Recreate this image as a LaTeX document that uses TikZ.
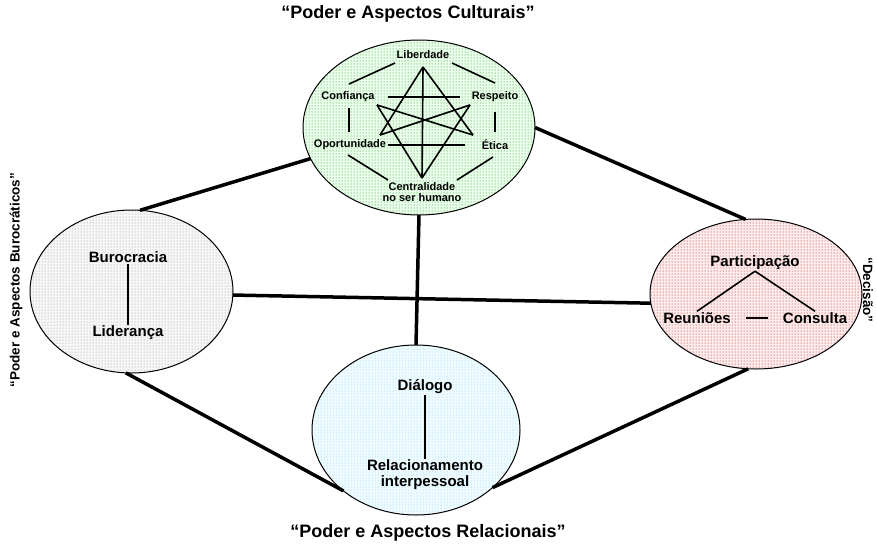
\documentclass[tikz,border=0pt]{standalone}
\usepackage{fontspec}
\setmainfont{Liberation Sans}
\usetikzlibrary{shapes.geometric,patterns}
\begin{document}
\begin{tikzpicture}[x=1pt,y=-1pt,
  bubble/.style={ellipse, draw=black, line width=1pt, inner sep=0pt, outer sep=0pt},
  link/.style={line width=3.5pt},
  inner/.style={line width=1.6pt},
  big/.style={font=\fontsize{15}{16}\selectfont\bfseries, inner sep=1pt, align=center},
  small/.style={font=\fontsize{11}{11}\selectfont\bfseries, inner sep=1pt, align=center},
  ttl/.style={font=\fontsize{18}{20}\selectfont\bfseries},
  side/.style={font=\fontsize{13.5}{15}\selectfont\bfseries, inner sep=1pt}]
\useasboundingbox (0,0) rectangle (877,544);

% ellipses
\node[bubble, minimum width=232pt, minimum height=175pt, preaction={fill=green!7}, pattern=dots, pattern color=green!55!black] (cult) at (419,127.5) {};
\node[bubble, minimum width=203pt, minimum height=163pt, preaction={fill=black!3}, pattern=dots, pattern color=black!45] (bur) at (131.5,291.5) {};
\node[bubble, minimum width=212pt, minimum height=150pt, preaction={fill=red!7}, pattern=dots, pattern color=red!60!black] (dec) at (756,294) {};
\node[bubble, minimum width=208pt, minimum height=170pt, preaction={fill=cyan!5}, pattern=dots, pattern color=cyan!70!blue!60] (rel) at (416,430) {};

% connectors
\draw[link] (cult.196) -- (bur.84);
\draw[link] (cult.0) -- (dec.98);
\draw[link] (cult.270) -- (rel.90);
\draw[link] (bur.-2) -- (dec.185);
\draw[link] (bur.266) -- (rel.220);
\draw[link] (dec.264) -- (rel.323);

% titles
\node[ttl] (t1) at (408,14) {“Poder e Aspectos Culturais”};
\node[ttl] (t2) at (428,533) {“Poder e Aspectos Relacionais”};
\node[side, rotate=90] (t3) at (16,280) {“Poder e Aspectos Burocráticos”};
\node[side, rotate=-90] (t4) at (868,290) {“Decisão”};

% top ellipse contents
\node[small] (lib) at (423,55) {Liberdade};
\node[small] (conf) at (348,97) {Confiança};
\node[small] (resp) at (495,97) {Respeito};
\node[small] (opor) at (350,145) {Oportunidade};
\node[small] (etica) at (495,145) {Ética};
\node[small] (cent) at (422,192) {Centralidade\\no ser humano};

\coordinate (A) at (423,67);
\coordinate (P1) at (380,135);
\coordinate (P2) at (473,135);
\coordinate (C1) at (377,105);
\coordinate (C2) at (470,105);
\coordinate (B) at (422,178);
\draw[inner] (A) -- (P1);
\draw[inner] (A) -- (P2);
\draw[inner] (C1) -- (P2);
\draw[inner] (C2) -- (P1);
\draw[inner] (C1) -- (B);
\draw[inner] (C2) -- (B);
\draw[inner] (A) -- (B);
\draw[inner] (388,97) -- (460,97);
\draw[inner] (388,145) -- (465,145);
\draw[inner] (395,63) -- (349,84);
\draw[inner] (452,63) -- (495,83);
\draw[inner] (349,108) -- (349,132);
\draw[inner] (495,112) -- (495,132);
\draw[inner] (348,155) -- (388,180);
\draw[inner] (493,157) -- (457,180);

% left ellipse contents
\node[big] (buro) at (128,257) {Burocracia};
\node[big] (lid) at (128,333) {Liderança};
\draw[inner] (buro.south) -- (lid.north);

% right ellipse contents
\node[big] (part) at (755,263) {Participação};
\node[big] (reun) at (697,318) {Reuniões};
\node[big] (cons) at (815,318) {Consulta};
\draw[inner] (part.south) -- (reun.north);
\draw[inner] (part.south) -- (cons.north);
\draw[inner, shorten <=14pt, shorten >=14pt] (reun.east) -- (cons.west);

% bottom ellipse contents
\node[big] (dial) at (425,387) {Diálogo};
\node[big] (relac) at (425,475) {Relacionamento\\interpessoal};
\draw[inner] (dial.south) -- (relac.north);
\end{tikzpicture}
\end{document}
